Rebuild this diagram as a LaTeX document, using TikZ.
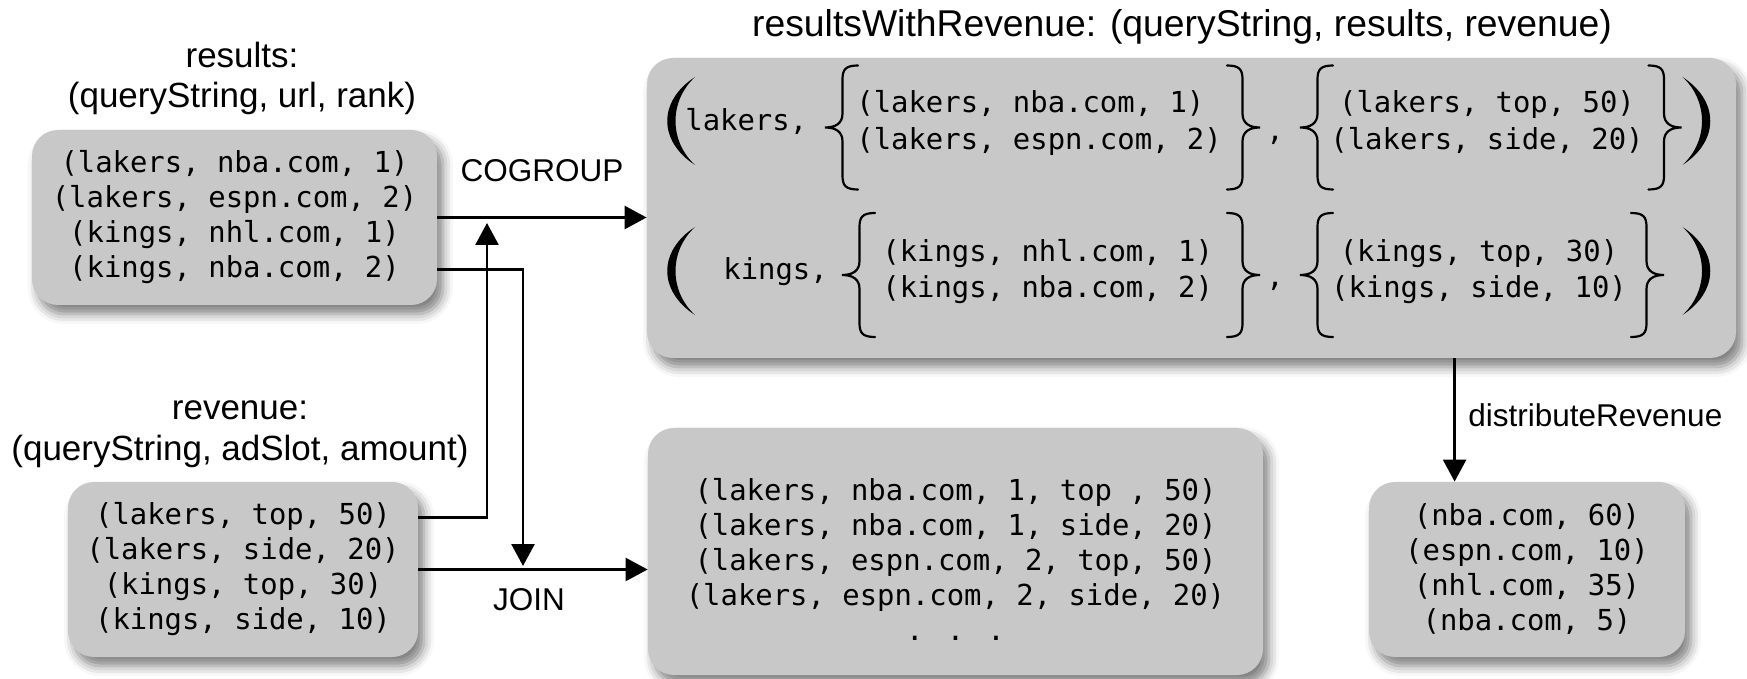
\documentclass[tikz,border=0pt]{standalone}
\usepackage{fontspec}
\setmainfont{Liberation Sans}
\newfontfamily\codefont{DejaVu Sans Mono}
\usetikzlibrary{arrows.meta,shadows.blur}
\definecolor{boxgray}{RGB}{200,200,200}

\begin{document}
\begin{tikzpicture}[x=0.5pt,y=-0.5pt,
  box/.style={rectangle,rounded corners=13pt,fill=boxgray,inner sep=0pt,
    blur shadow={shadow xshift=3pt,shadow yshift=-4.5pt,shadow blur radius=5pt,shadow opacity=50}},
  code/.style={font=\codefont\fontsize{14.45}{17.5}\selectfont,align=center,inner sep=0pt},
  lbl/.style={font=\fontsize{17.5}{21}\selectfont,inner sep=0pt},
  ttl/.style={font=\fontsize{18.65}{22}\selectfont,inner sep=0pt},
  oplbl/.style={font=\fontsize{15.75}{19}\selectfont,inner sep=0pt},
  flow/.style={line width=1.3pt,-{Triangle[length=11pt,width=11.5pt]}},
  % tall brace, tip on the left, centred on the pic origin
  lbrc/.pic={\draw[line width=1.1pt,line cap=round]
    (16.5,-62) .. controls (4,-62) and (1,-58) .. (1,-48) -- (1,-14)
    .. controls (1,-4) and (-6,0) .. (-16.5,0)
    .. controls (-6,0) and (1,4) .. (1,14) -- (1,48)
    .. controls (1,58) and (4,62) .. (16.5,62);},
  % big parenthesis, opening side
  lpar/.pic={\fill (14,-44) .. controls (-23,-20) and (-23,20) .. (14,44)
    .. controls (-12,20) and (-12,-20) .. (14,-44) -- cycle;}]
\useasboundingbox (0,0) rectangle (1747,679);
% input relations and their schemas
\node[lbl,anchor=base] (reslbl) at (242,68) {results:};
\node[lbl,anchor=base] (resfld) at (242,108) {(queryString, url, rank)};
\node[box,code,minimum width=202.5pt,minimum height=87.5pt] (res) at (234.5,217.5)
  {(lakers, nba.com, 1)\\(lakers, espn.com, 2)\\(kings, nhl.com, 1)\\(kings, nba.com, 2)};
\node[lbl,anchor=base] (revlbl) at (240,420) {revenue:};
\node[lbl,anchor=base] (revfld) at (240,460) {(queryString, adSlot, amount)};
\node[box,code,minimum width=175pt,minimum height=87.5pt] (rev) at (243,569.5)
  {(lakers, top, 50)\\(lakers, side, 20)\\(kings, top, 30)\\(kings, side, 10)};
% grouped relation, one tuple per query string
\node[ttl,anchor=base] (grplbl) at (1182,37) {resultsWithRevenue: (queryString, results, revenue)};
\node[box,minimum width=544.5pt,minimum height=150pt] (grp) at (1191.5,208) {};
% lakers tuple
\pic at (681,121) {lpar};
\node[code,anchor=base west] (lk) at (685,131) {lakers,};
\pic at (841.5,127.5) {lbrc};
\node[code,anchor=base west] (lr1) at (856,113) {(lakers, nba.com, 1)};
\node[code,anchor=base west] (lr2) at (856,150) {(lakers, espn.com, 2)};
\pic[xscale=-1] at (1243.5,127.5) {lbrc};
\node[code,anchor=base] (lc) at (1275,141) {,};
\pic at (1316.5,127.5) {lbrc};
\node[code,anchor=base] (lv1) at (1487,113) {(lakers, top, 50)};
\node[code,anchor=base] (lv2) at (1487,150) {(lakers, side, 20)};
\pic[xscale=-1] at (1665,127.5) {lbrc};
\pic[xscale=-1] at (1696.5,121) {lpar};
% kings tuple
\pic at (681,271) {lpar};
\node[code,anchor=base west] (kg) at (723,280) {kings,};
\pic at (858.5,275) {lbrc};
\node[code,anchor=base west] (kr1) at (882,262) {(kings, nhl.com, 1)};
\node[code,anchor=base west] (kr2) at (882,298) {(kings, nba.com, 2)};
\pic[xscale=-1] at (1243.5,275) {lbrc};
\node[code,anchor=base] (kc) at (1275,287) {,};
\pic at (1316.5,275) {lbrc};
\node[code,anchor=base] (kv1) at (1479,262) {(kings, top, 30)};
\node[code,anchor=base] (kv2) at (1479,298) {(kings, side, 10)};
\pic[xscale=-1] at (1647.5,275) {lbrc};
\pic[xscale=-1] at (1696.5,271) {lpar};
% outputs
\node[box,code,minimum width=307.5pt,minimum height=123.5pt] (jn) at (955.5,551.5)
  {\rule{0pt}{19pt}(lakers, nba.com, 1, top , 50)\\(lakers, nba.com, 1, side, 20)\\(lakers, espn.com, 2, top, 50)\\(lakers, espn.com, 2, side, 20)\\. . .};
\node[box,code,minimum width=158pt,minimum height=87.5pt] (dist) at (1527,569.5)
  {(nba.com, 60)\\(espn.com, 10)\\(nhl.com, 35)\\(nba.com, 5)};
% connectors
\coordinate (cgin) at (487,223);
\coordinate (jnin) at (523,566);
\coordinate (distin) at ([xshift=43pt]dist.north west);
\draw[flow] (res.east) -- (res.east -| grp.west);
\draw[flow] ([yshift=26pt]rev.east) -| (cgin);
\draw[flow] ([yshift=-26pt]res.east) -| (jnin);
\draw[flow] (rev.east) -- (rev.east -| jn.west);
\draw[flow] (grp.south -| distin) -- (distin);
\node[oplbl,anchor=base] (cglbl) at (542,182) {COGROUP};
\node[oplbl,anchor=base] (jnlbl) at (529,610) {JOIN};
\node[oplbl,anchor=base west] (distlbl) at (1468,427) {distributeRevenue};
\end{tikzpicture}
\end{document}
